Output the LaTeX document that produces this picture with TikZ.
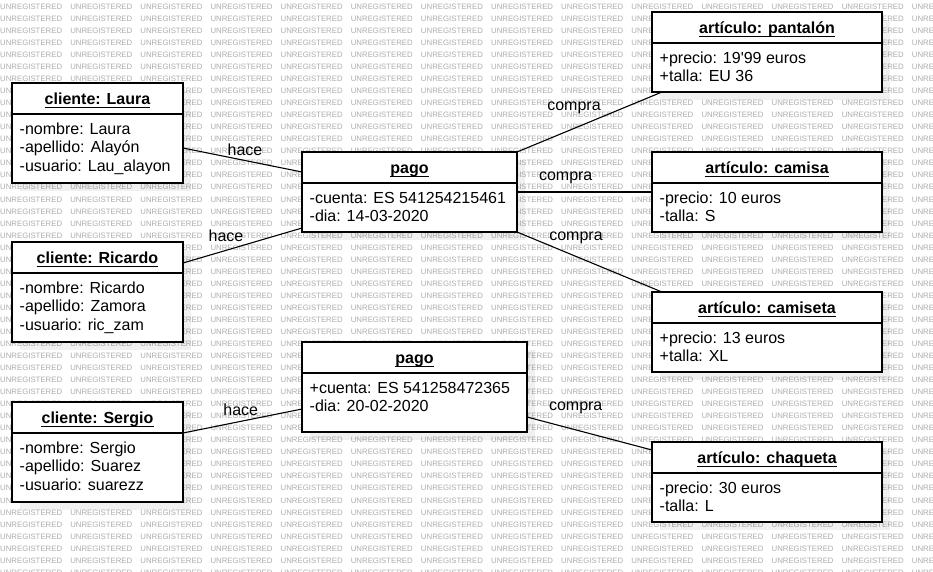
\documentclass[tikz,border=0pt]{standalone}
\usepackage{fontspec}
\setmainfont{Liberation Sans}
\newfontfamily\plainfont{Liberation Sans}
\tikzset{
  objframe/.style={draw=black, line width=1.3pt, fill=white, inner sep=0pt, outer sep=0pt},
  objtitle/.style={font=\fontsize{16}{18}\selectfont\bfseries, inner sep=0pt, anchor=base},
  attr/.style={font=\fontsize{16}{18}\selectfont, inner sep=0pt, anchor=base west},
  lbl/.style={font=\fontsize{16}{18}\selectfont, inner sep=0pt, anchor=base},
  conn/.style={draw=black, line width=1.1pt},
  wm/.style={font=\fontsize{7.8}{8}\selectfont, text=black!32, inner sep=0pt, anchor=west},
  objshadow/.style={fill=black, opacity=0.06},
}
\newcommand\objbox[7]{%
  \fill[objshadow] (#2+8,#3+8) rectangle (#2+#4+8,#3+#5+8);
  \node[objframe, minimum width=#4pt, minimum height=#5pt] (#1) at (#2+#4/2,#3+#5/2) {};
  \draw[line width=1.3pt] (#2,#3+31) -- (#2+#4,#3+31);
  \node[objtitle] (#1-t) at (#2+#4/2,#3+21.5) {#6};
  \draw[line width=1.1pt] ([yshift=-2.6pt]#1-t.base west) -- ([yshift=-2.6pt]#1-t.base east);
  \foreach \l [count=\i] in {#7} \node[attr] (#1-a\i) at (#2+7.5,#3+51+18.5*\i-18.5) {\l};
}
\begin{document}
\begin{tikzpicture}[x=1pt,y=-1pt]
\useasboundingbox (0,0) rectangle (933,571);
\clip (0,0) rectangle (933,571);
\fill[white] (0,0) rectangle (933,571);
% watermark
\foreach \r in {0,...,47} {
  \foreach \c in {0,...,13} {
    \node[wm] (wm-\r-\c) at (\c*70.13,6.7+\r*12.04) {UNREGISTERED};
  }
}
% objects
\objbox{laura}{12}{83}{171}{100}{cliente: Laura}{-nombre: Laura,-apellido: Alayón,-usuario: Lau\_alayon}
\objbox{ricardo}{12}{242}{171}{100}{cliente: Ricardo}{-nombre: Ricardo,-apellido: Zamora,-usuario: ric\_zam}
\objbox{sergio}{12}{402}{171}{100}{cliente: Sergio}{-nombre: Sergio,-apellido: Suarez,-usuario: suarezz}
\objbox{pagoa}{302}{152}{215}{80}{pago}{-cuenta: ES 541254215461,-dia: 14-03-2020}
\objbox{pagob}{302}{342}{225}{90}{pago}{+cuenta: ES 541258472365,-dia: 20-02-2020}
\objbox{pantalon}{652}{12}{230}{80}{artículo: pantalón}{{\plainfont +precio: 19'99 euros},+talla: EU 36}
\objbox{camisa}{652}{152}{230}{80}{artículo: camisa}{-precio: 10 euros,-talla: S}
\objbox{camiseta}{652}{292}{230}{80}{artículo: camiseta}{+precio: 13 euros,+talla: XL}
\objbox{chaqueta}{652}{442}{230}{80}{artículo: chaqueta}{-precio: 30 euros,-talla: L}
% connectors
\draw[conn] ([yshift=-15pt]laura.east) -- ([yshift=20pt]pagoa.west);
\draw[conn] ([yshift=29pt]ricardo.east) -- ([yshift=-36pt]pagoa.west);
\draw[conn] ([yshift=19pt]sergio.east) -- ([yshift=-22pt]pagob.west);
\draw[conn] (pagoa.north east) -- ([xshift=10pt]pantalon.south west);
\draw[conn] (pagoa.east) -- (camisa.west);
\draw[conn] (pagoa.south east) -- ([xshift=10pt]camiseta.north west);
\draw[conn] ([yshift=-30pt]pagob.east) -- ([yshift=32pt]chaqueta.west);
% labels
\node[lbl] (l1) at (245,155.7) {hace};
\node[lbl] (l2) at (226,241) {hace};
\node[lbl] (l3) at (240.7,415) {hace};
\node[lbl] (l4) at (574,110.7) {compra};
\node[lbl] (l5) at (565.7,180.7) {compra};
\node[lbl] (l6) at (576,240.7) {compra};
\node[lbl] (l7) at (575.7,410.7) {compra};
\end{tikzpicture}
\end{document}
